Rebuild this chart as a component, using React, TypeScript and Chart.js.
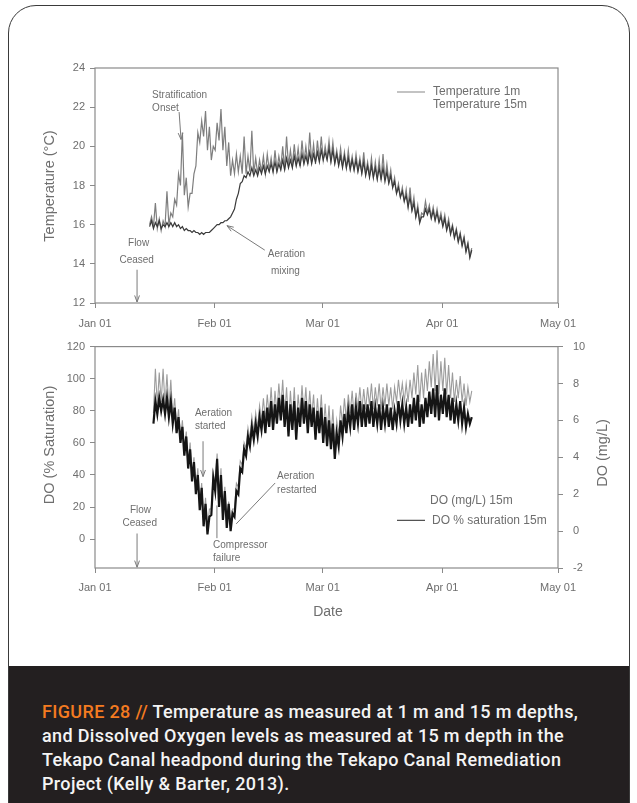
import React, { useEffect, useRef } from "react";
import { Chart, registerables } from "chart.js";

Chart.register(...registerables);

// ---------- axis ticks ----------
const tickDays = [0, 31, 59, 90, 120];
const tickLabels = ["Jan 01", "Feb 01", "Mar 01", "Apr 01", "May 01"];

// ---------- temperature (daily [low, high]) ----------
const tempStartDay = 14; // Jan 15
const temp1m: number[][] = [
  [16.0, 16.4], [15.9, 17.1], [15.8, 16.3], [15.7, 16.2], [15.9, 17.7], [16.0, 16.6], [16.4, 17.3],
  [17.0, 18.6], [18.0, 20.7], [17.5, 18.4], [16.9, 17.6], [17.6, 18.6], [19.0, 20.7], [20.2, 21.3],
  [20.5, 21.8], [19.8, 21.0], [19.3, 20.0], [19.8, 21.2], [20.3, 21.9], [19.8, 21.0], [19.0, 20.2],
  [18.5, 19.3], [18.6, 19.6], [18.7, 19.5], [18.6, 20.5], [18.6, 19.5], [18.7, 20.8], [18.6, 19.4],
  [18.6, 19.3], [18.7, 19.5], [18.6, 19.6], [18.8, 19.4], [18.7, 19.8], [18.8, 19.5], [18.9, 20.0],
  [18.8, 20.5], [19.0, 19.8], [19.0, 20.1], [19.1, 19.9], [19.0, 20.3], [19.2, 20.0], [19.1, 20.7],
  [19.2, 20.1], [19.1, 20.3], [19.3, 20.5], [19.3, 20.0], [19.4, 20.3], [19.3, 20.2], [19.2, 19.8],
  [19.1, 19.9], [19.0, 19.7], [18.9, 19.8], [18.9, 19.5], [18.8, 19.6], [18.8, 19.4], [18.7, 19.7],
  [18.6, 19.2], [18.5, 19.4], [18.4, 19.2], [18.4, 19.3], [18.3, 19.6], [18.3, 19.1], [18.2, 18.8],
  [17.9, 18.4], [17.6, 18.1], [17.4, 17.9], [17.2, 17.8], [16.9, 17.9], [16.8, 17.4], [16.4, 17.0],
  [16.1, 16.6], [16.5, 17.2], [16.6, 17.0], [16.4, 16.9], [16.3, 16.8], [16.2, 16.6], [16.0, 16.5],
  [15.8, 16.3], [15.6, 16.0], [15.4, 15.8], [15.2, 15.6], [15.0, 15.4], [14.7, 15.1], [14.4, 14.8],
];
const temp15m: number[][] = [
  [15.9, 16.2], [15.8, 16.1], [15.9, 16.2], [15.8, 16.0], [15.9, 16.1], [15.9, 16.1], [15.9, 16.1],
  [15.9, 16.0], [15.8, 15.9], [15.7, 15.8], [15.7, 15.7], [15.6, 15.7], [15.6, 15.6], [15.5, 15.6],
  [15.5, 15.6], [15.6, 15.6], [15.7, 15.8], [15.9, 16.0], [16.0, 16.1], [16.1, 16.2], [16.2, 16.3],
  [16.4, 16.6], [16.8, 17.3], [17.6, 18.1], [18.2, 18.5], [18.4, 18.7], [18.5, 18.9], [18.5, 18.8],
  [18.5, 18.9], [18.6, 19.0], [18.6, 19.0], [18.7, 19.1], [18.7, 19.2], [18.7, 19.1], [18.8, 19.3],
  [18.8, 19.4], [18.9, 19.3], [18.9, 19.5], [19.0, 19.4], [19.0, 19.6], [19.1, 19.5], [19.1, 19.7],
  [19.1, 19.6], [19.2, 19.7], [19.2, 19.8], [19.3, 19.7], [19.3, 19.9], [19.2, 19.8], [19.1, 19.6],
  [19.0, 19.5], [18.9, 19.5], [18.9, 19.4], [18.8, 19.3], [18.8, 19.3], [18.7, 19.2], [18.6, 19.2],
  [18.5, 19.0], [18.4, 19.0], [18.4, 18.9], [18.3, 18.9], [18.3, 18.9], [18.2, 18.7], [18.1, 18.5],
  [17.9, 18.2], [17.6, 17.9], [17.4, 17.7], [17.2, 17.5], [16.9, 17.4], [16.7, 17.1], [16.4, 16.8],
  [16.1, 16.4], [16.4, 16.8], [16.5, 16.8], [16.3, 16.7], [16.2, 16.6], [16.1, 16.4], [15.9, 16.3],
  [15.7, 16.1], [15.5, 15.9], [15.3, 15.7], [15.1, 15.5], [14.9, 15.3], [14.6, 15.0], [14.3, 14.7],
];

// ---------- dissolved oxygen (daily [low, high]) ----------
const doStartDay = 15;
const doSat15m: number[][] = [
  [72, 86], [78, 88], [80, 87], [78, 88], [76, 86], [72, 82], [66, 76], [60, 70], [52, 64], [44, 56],
  [36, 48], [28, 40], [18, 32], [8, 22], [3, 14], [15, 38], [30, 50], [20, 40], [12, 30], [7, 22],
  [5, 16], [14, 30], [28, 44], [42, 56], [52, 64], [58, 70], [62, 72], [64, 76], [68, 80], [66, 82],
  [70, 86], [68, 84], [72, 88], [74, 90], [70, 86], [64, 84], [68, 86], [62, 82], [70, 88], [72, 86],
  [66, 84], [70, 82], [62, 80], [66, 82], [60, 76], [58, 74], [56, 72], [50, 66], [58, 74], [64, 78],
  [66, 80], [70, 84], [68, 82], [72, 86], [70, 84], [70, 84], [72, 86], [70, 82], [72, 84], [68, 82],
  [72, 84], [70, 82], [68, 80], [72, 86], [74, 84], [72, 82], [70, 84], [72, 88], [74, 90], [70, 84],
  [72, 88], [76, 92], [78, 94], [76, 96], [74, 90], [78, 94], [76, 90], [74, 88], [72, 84], [74, 86],
  [72, 82], [70, 78], [72, 76],
];
const doMgL15m: number[][] = [
  [6.4, 8.8], [6.8, 8.6], [7.0, 8.8], [6.8, 8.5], [6.6, 8.2], [6.2, 7.2], [5.6, 6.6], [5.0, 6.0],
  [4.4, 5.4], [3.6, 4.8], [3.0, 4.0], [2.2, 3.4], [1.4, 2.6], [0.5, 1.8], [0.0, 1.2], [1.2, 3.2],
  [2.6, 4.2], [1.6, 3.4], [0.8, 2.4], [0.4, 1.6], [0.2, 1.2], [1.2, 2.6], [2.4, 3.8], [3.6, 4.8],
  [4.5, 5.6], [5.0, 6.2], [5.4, 6.4], [5.6, 6.8], [6.0, 7.2], [6.0, 7.4], [6.2, 7.8], [6.0, 7.6],
  [6.4, 8.0], [6.6, 8.2], [6.2, 7.8], [5.8, 7.6], [6.0, 7.8], [5.6, 7.4], [6.2, 7.9], [6.4, 7.8],
  [6.0, 7.6], [6.2, 7.4], [5.6, 7.2], [5.8, 7.4], [5.4, 6.9], [5.2, 6.8], [5.0, 6.6], [4.6, 6.0],
  [5.2, 6.8], [5.8, 7.2], [6.0, 7.4], [6.4, 7.6], [6.2, 7.5], [6.6, 7.8], [6.5, 7.7], [6.6, 7.8],
  [6.8, 8.0], [6.6, 7.8], [6.8, 8.0], [6.6, 7.8], [6.8, 8.0], [6.8, 7.8], [6.6, 7.8], [7.0, 8.2],
  [7.2, 8.0], [7.0, 8.0], [7.0, 8.2], [7.2, 8.6], [7.4, 9.0], [7.0, 8.6], [7.2, 8.8], [7.6, 9.2],
  [7.8, 9.6], [7.6, 9.8], [7.4, 9.2], [7.6, 9.4], [7.4, 9.0], [7.2, 8.6], [7.0, 8.2], [7.2, 8.4],
  [7.0, 8.0], [6.8, 7.8], [7.0, 7.6],
];

// ---------- helpers ----------
const FONT = "'Liberation Sans', Arial, sans-serif";
const TEXT = "#6e6e6e";
const AXIS = "#8a8a8a";

function dailyPoints(start: number, pairs: number[][]) {
  const pts: { x: number; y: number }[] = [];
  pairs.forEach(([lo, hi], i) => {
    pts.push({ x: start + i + 0.15, y: lo });
    pts.push({ x: start + i + 0.65, y: hi });
  });
  return pts;
}

function txt(ctx: CanvasRenderingContext2D, s: string, x: number, y: number, size: number, align: CanvasTextAlign = "left", rot = 0) {
  ctx.save();
  ctx.font = `${size}px ${FONT}`;
  ctx.fillStyle = TEXT;
  ctx.textAlign = align;
  ctx.textBaseline = "middle";
  ctx.translate(x, y);
  if (rot) ctx.rotate(rot);
  ctx.fillText(s, 0, 0);
  ctx.restore();
}

function seg(ctx: CanvasRenderingContext2D, x1: number, y1: number, x2: number, y2: number, head: boolean) {
  ctx.save();
  ctx.strokeStyle = "#7a7a7a";
  ctx.lineWidth = 1;
  ctx.beginPath();
  ctx.moveTo(x1, y1);
  ctx.lineTo(x2, y2);
  ctx.stroke();
  if (head) {
    const a = Math.atan2(y2 - y1, x2 - x1);
    const L = 7;
    ctx.beginPath();
    ctx.moveTo(x2 - L * Math.cos(a - 0.35), y2 - L * Math.sin(a - 0.35));
    ctx.lineTo(x2, y2);
    ctx.lineTo(x2 - L * Math.cos(a + 0.35), y2 - L * Math.sin(a + 0.35));
    ctx.stroke();
  }
  ctx.restore();
}

function frame(chart: any) {
  const { ctx, chartArea: a } = chart;
  ctx.save();
  ctx.strokeStyle = AXIS;
  ctx.lineWidth = 1.2;
  ctx.strokeRect(a.left, a.top, a.right - a.left, a.bottom - a.top);
  ctx.restore();
}

const tickFont = { family: FONT, size: 11 };

function xAxis(height: number, pad: number) {
  return {
    type: "linear" as const,
    min: 0,
    max: 120,
    afterBuildTicks: (s: any) => {
      s.ticks = tickDays.map((v) => ({ value: v }));
    },
    ticks: {
      callback: (v: any) => {
        const i = tickDays.indexOf(Number(v));
        return i >= 0 ? tickLabels[i] : "";
      },
      font: tickFont,
      color: TEXT,
      padding: pad,
      maxRotation: 0,
      autoSkip: false,
    },
    grid: { drawOnChartArea: false, tickLength: 5, color: AXIS },
    border: { display: false },
    afterFit: (s: any) => {
      s.height = height;
    },
  };
}

const canvasFilter = "blur(0.45px)";

// ---------- top chart ----------
function TempChart() {
  const ref = useRef<HTMLCanvasElement>(null);
  useEffect(() => {
    const deco = {
      id: "deco1",
      afterDraw(chart: any) {
        const { ctx, scales } = chart;
        const x = (d: number) => scales.x.getPixelForValue(d);
        const y = (v: number) => scales.y.getPixelForValue(v);
        frame(chart);
        txt(ctx, "Temperature (°C)", 50, 186, 14.5, "center", -Math.PI / 2);
        ctx.save();
        ctx.strokeStyle = "#9a9a9a";
        ctx.lineWidth = 1.2;
        ctx.beginPath();
        ctx.moveTo(397, 92);
        ctx.lineTo(425, 92);
        ctx.stroke();
        ctx.restore();
        txt(ctx, "Temperature 1m", 433, 92, 12);
        txt(ctx, "Temperature 15m", 433, 105, 12);
        txt(ctx, "Stratification", x(14.8), y(22.62), 10);
        txt(ctx, "Onset", x(14.8), y(21.96), 10);
        seg(ctx, x(21.8), y(21.75), x(22.3), y(20.35), true);
        txt(ctx, "Flow", x(11.3), y(15.05), 10, "center");
        txt(ctx, "Ceased", x(10.8), y(14.2), 10, "center");
        seg(ctx, x(10.9), y(13.7), x(10.9), y(12.05), true);
        txt(ctx, "Aeration", x(44.8), y(14.5), 10);
        txt(ctx, "mixing", x(45.6), y(13.63), 10);
        seg(ctx, x(44.0), y(14.7), x(34.2), y(15.95), true);
      },
    };
    const chart = new Chart(ref.current!, {
      type: "line",
      data: {
        datasets: [
          {
            label: "Temperature 15m",
            data: dailyPoints(tempStartDay, temp15m),
            borderColor: "#3a3a3a",
            borderWidth: 1.2,
            pointRadius: 0,
          },
          {
            label: "Temperature 1m",
            data: dailyPoints(tempStartDay, temp1m),
            borderColor: "#7e7e7e",
            borderWidth: 1.2,
            pointRadius: 0,
          },
        ],
      },
      options: {
        animation: false,
        responsive: false,
        layout: { padding: { top: 68, right: 79, left: 0, bottom: 0 } },
        plugins: { legend: { display: false }, tooltip: { enabled: false } },
        scales: {
          x: xAxis(27, 9) as any,
          y: {
            min: 12,
            max: 24,
            ticks: { stepSize: 2, font: tickFont, color: TEXT, padding: 5 },
            grid: { drawOnChartArea: false, tickLength: 5, color: AXIS },
            border: { display: false },
            afterFit: (s: any) => {
              s.width = 95;
            },
          },
        },
      },
      plugins: [deco],
    });
    return () => chart.destroy();
  }, []);
  return (
    <canvas
      ref={ref}
      width={637}
      height={330}
      style={{ position: "absolute", left: 0, top: 0, width: 637, height: 330, filter: canvasFilter }}
    />
  );
}

// ---------- bottom chart ----------
function DOChart() {
  const ref = useRef<HTMLCanvasElement>(null);
  useEffect(() => {
    const deco = {
      id: "deco2",
      afterDraw(chart: any) {
        const { ctx, scales } = chart;
        const x = (d: number) => scales.x.getPixelForValue(d);
        const y = (v: number) => scales.y.getPixelForValue(v);
        frame(chart);
        txt(ctx, "DO (% Saturation)", 50, 115, 14.5, "center", -Math.PI / 2);
        txt(ctx, "DO (mg/L)", 603, 123, 14.5, "center", -Math.PI / 2);
        txt(ctx, "Date", 328, 282, 14, "center");
        txt(ctx, "DO (mg/L) 15m", 430, y(24), 12);
        ctx.save();
        ctx.strokeStyle = "#4a4a4a";
        ctx.lineWidth = 1.2;
        ctx.beginPath();
        ctx.moveTo(397, y(11.7));
        ctx.lineTo(425, y(11.7));
        ctx.stroke();
        ctx.restore();
        txt(ctx, "DO % saturation 15m", 432, y(11.7), 12);
        txt(ctx, "Aeration", x(25.9), y(78.2), 10);
        txt(ctx, "started", x(25.9), y(70.2), 10);
        seg(ctx, x(28), y(61), x(28), y(39), true);
        txt(ctx, "Compressor", x(30.6), y(-3.7), 10);
        txt(ctx, "failure", x(30.6), y(-11.7), 10);
        seg(ctx, x(31.6), y(0.6), x(31.6), y(21), false);
        txt(ctx, "Aeration", x(47.2), y(39.4), 10);
        txt(ctx, "restarted", x(47.2), y(30.2), 10);
        seg(ctx, x(46.7), y(35), x(36.6), y(9.5), false);
        txt(ctx, "Flow", x(11.8), y(17.8), 10, "center");
        txt(ctx, "Ceased", x(11.6), y(10.2), 10, "center");
        seg(ctx, x(10.9), y(3.5), x(10.9), y(-17.5), true);
      },
    };
    const chart = new Chart(ref.current!, {
      type: "line",
      data: {
        datasets: [
          {
            label: "DO % saturation 15m",
            data: dailyPoints(doStartDay, doSat15m),
            borderColor: "#151515",
            borderWidth: 2.2,
            pointRadius: 0,
            yAxisID: "y",
          },
          {
            label: "DO (mg/L) 15m",
            data: dailyPoints(doStartDay, doMgL15m),
            borderColor: "#9c9c9c",
            borderWidth: 1.1,
            pointRadius: 0,
            yAxisID: "y2",
          },
        ],
      },
      options: {
        animation: false,
        responsive: false,
        layout: { padding: { top: 14, right: 0, left: 0, bottom: 0 } },
        plugins: { legend: { display: false }, tooltip: { enabled: false } },
        scales: {
          x: xAxis(82, 8) as any,
          y: {
            position: "left",
            min: -18,
            max: 120,
            afterBuildTicks: (s: any) => {
              s.ticks = s.ticks.filter((t: any) => t.value >= 0 && t.value % 20 === 0);
            },
            ticks: { stepSize: 20, font: tickFont, color: TEXT, padding: 5 },
            grid: { drawOnChartArea: false, tickLength: 5, color: AXIS },
            border: { display: false },
            afterFit: (s: any) => {
              s.width = 95;
            },
          },
          y2: {
            position: "right",
            min: -2,
            max: 10,
            ticks: { stepSize: 2, font: tickFont, color: TEXT, padding: 10 },
            grid: { drawOnChartArea: false, tickLength: 5, color: AXIS },
            border: { display: false },
            afterFit: (s: any) => {
              s.width = 79;
            },
          },
        },
      },
      plugins: [deco],
    });
    return () => chart.destroy();
  }, []);
  return (
    <canvas
      ref={ref}
      width={637}
      height={320}
      style={{ position: "absolute", left: 0, top: 330, width: 637, height: 320, filter: canvasFilter }}
    />
  );
}

export default function App() {
  return (
    <div style={{ position: "absolute", left: 0, top: 0, width: 637, height: 803, overflow: "hidden", background: "#fff" }}>
      <div
        style={{
          position: "absolute",
          left: 8,
          top: 5,
          width: 622,
          height: 830,
          boxSizing: "border-box",
          border: "1.5px solid #3a3a3a",
          borderRadius: 28,
        }}
      />
      <TempChart />
      <DOChart />
      <div style={{ position: "absolute", left: 9, top: 666, width: 620, height: 137, background: "#231f20" }}>
        <div
          style={{
            position: "absolute",
            left: 33,
            top: 34,
            whiteSpace: "nowrap",
            fontFamily: "Roboto, 'Liberation Sans', sans-serif",
            fontWeight: 500,
            fontSize: 18,
            letterSpacing: "0.35px",
            lineHeight: "24px",
            color: "#f4f4f4",
          }}
        >
          <span style={{ color: "#f47b20" }}>FIGURE 28 //</span> Temperature as measured at 1 m and 15 m depths,
          <br />
          and Dissolved Oxygen levels as measured at 15 m depth in the
          <br />
          Tekapo Canal headpond during the Tekapo Canal Remediation
          <br />
          Project (Kelly &amp; Barter, 2013).
        </div>
      </div>
    </div>
  );
}
